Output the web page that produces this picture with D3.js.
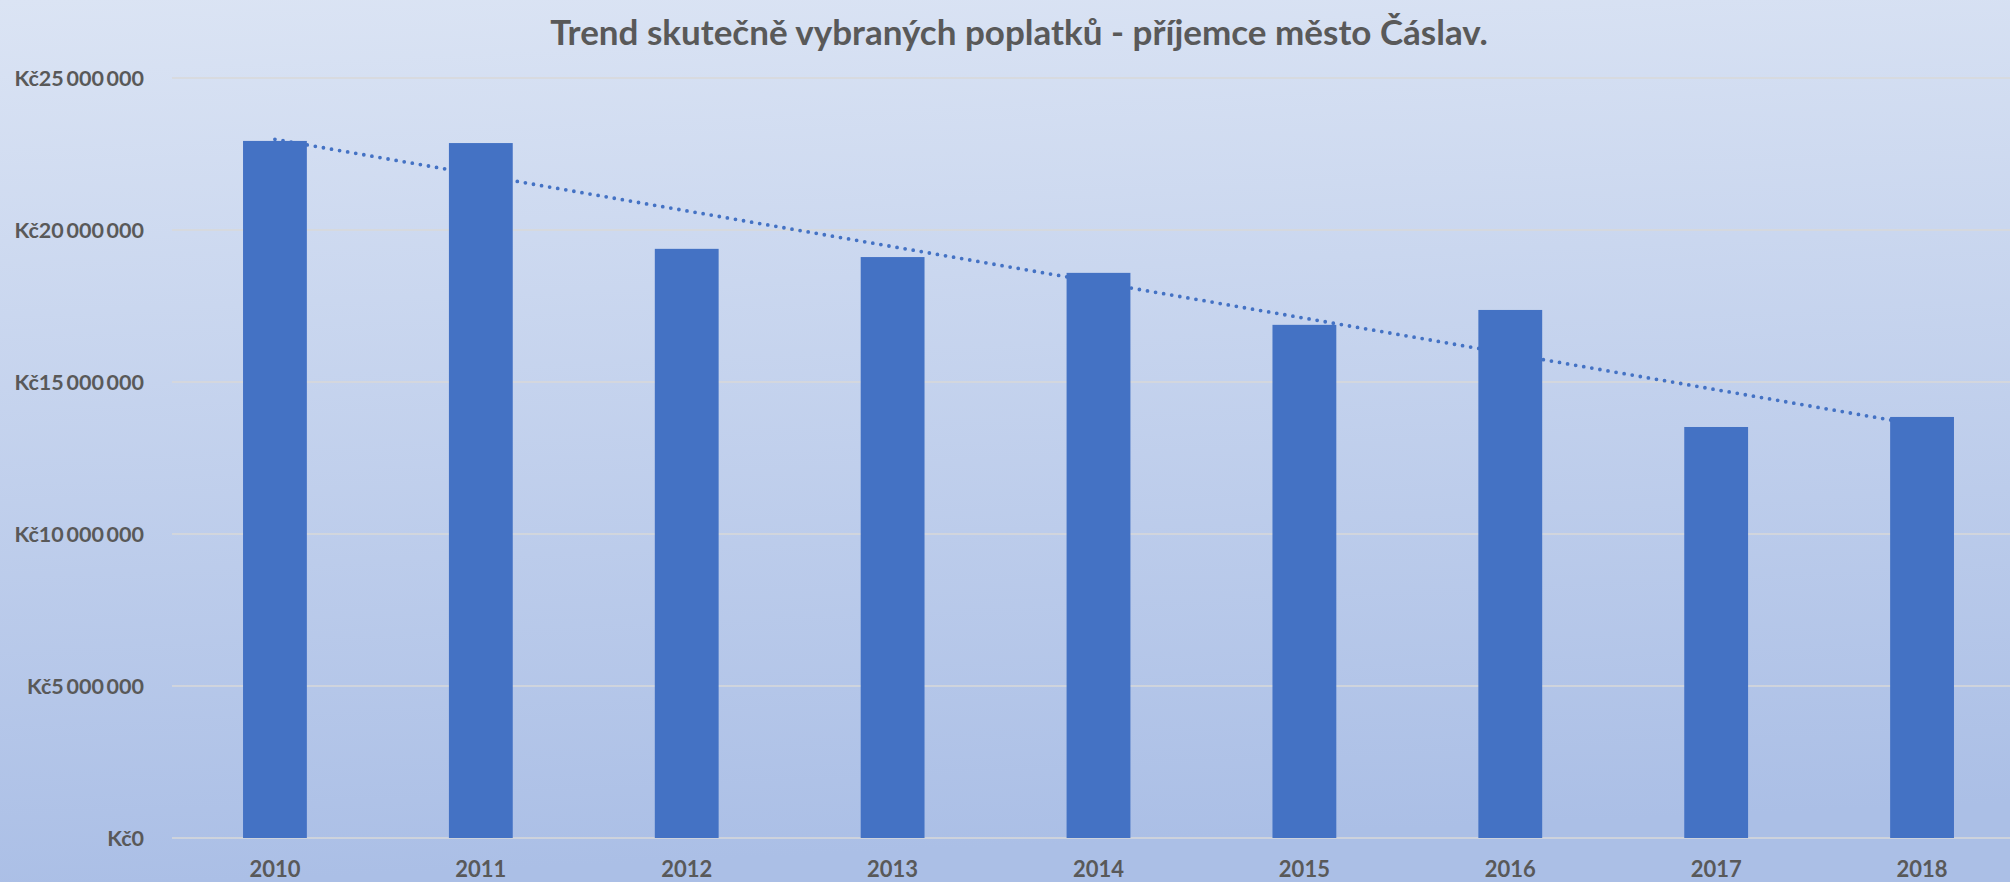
<!DOCTYPE html>
<html>
<head>
<meta charset="utf-8">
<script src="https://cdn.jsdelivr.net/npm/d3@7"></script>
<style>
  html, body { margin: 0; padding: 0; overflow: hidden; }
  svg { display: block; }
  text { font-family: Lato, "Open Sans", sans-serif; font-weight: bold; fill: #595959; }
</style>
</head>
<body>
<script>
const title = "Trend skutečně vybraných poplatků - příjemce město Čáslav.";
const categories = ["2010", "2011", "2012", "2013", "2014", "2015", "2016", "2017", "2018"];
const values = [22930000, 22860000, 19380000, 19110000, 18590000, 16880000, 17370000, 13520000, 13850000];
const yTicks = [0, 5000000, 10000000, 15000000, 20000000, 25000000];

const W = 2010, H = 882;
const svg = d3.select("body").append("svg").attr("width", W).attr("height", H);

const defs = svg.append("defs");
const grad = defs.append("linearGradient").attr("id", "bg")
  .attr("x1", "0").attr("y1", "0").attr("x2", "0.1").attr("y2", "1");
grad.append("stop").attr("offset", "0%").attr("stop-color", "#dbe4f4");
grad.append("stop").attr("offset", "100%").attr("stop-color", "#abbfe6");
svg.append("rect").attr("width", W).attr("height", H).attr("fill", "url(#bg)");

const x = d3.scaleBand().domain(categories).range([172, 2025]).paddingInner(0.69).paddingOuter(0.345);
const y = d3.scaleLinear().domain([0, 25000000]).range([838, 78]);

const fmt = v => "Kč" + d3.format(",")(v).replace(/,/g, "\u2009");

// gridlines
svg.append("g").selectAll("line").data(yTicks).join("line")
  .attr("x1", 172).attr("x2", W)
  .attr("y1", d => y(d)).attr("y2", d => y(d))
  .attr("stroke", "#d9d9d9").attr("stroke-width", 1.6);

// y labels
svg.append("g").selectAll("text").data(yTicks).join("text")
  .attr("x", 144).attr("y", d => y(d)).attr("dy", "0.36em")
  .attr("text-anchor", "end").style("font-size", "21.5px")
  .text(d => fmt(d));

// linear trend (least squares over category index)
const n = values.length;
const xs = values.map((_, i) => i + 1);
const mx = d3.mean(xs), my = d3.mean(values);
const slope = d3.sum(xs.map((xi, i) => (xi - mx) * (values[i] - my))) / d3.sum(xs.map(xi => (xi - mx) ** 2));
const icpt = my - slope * mx;
const trend = categories.map((c, i) => ({ c, v: icpt + slope * (i + 1) }));
const line = d3.line().x(d => x(d.c) + x.bandwidth() / 2).y(d => y(d.v));
svg.append("path").datum([trend[0], trend[n - 1]])
  .attr("d", line).attr("fill", "none")
  .attr("stroke", "#4472c4").attr("stroke-width", 3.8)
  .attr("stroke-linecap", "round").attr("stroke-dasharray", "0 8.2");

// bars
svg.append("g").selectAll("rect").data(values).join("rect")
  .attr("x", (d, i) => x(categories[i]))
  .attr("width", x.bandwidth())
  .attr("y", d => y(d))
  .attr("height", d => y(0) - y(d))
  .attr("fill", "#4472c4");

// x labels
svg.append("g").selectAll("text").data(categories).join("text")
  .attr("x", d => x(d) + x.bandwidth() / 2).attr("y", 877)
  .attr("text-anchor", "middle").style("font-size", "22px")
  .text(d => d);

// title
svg.append("text").attr("x", 1019).attr("y", 45)
  .attr("text-anchor", "middle").style("font-size", "35px")
  .text(title);
</script>
</body>
</html>
